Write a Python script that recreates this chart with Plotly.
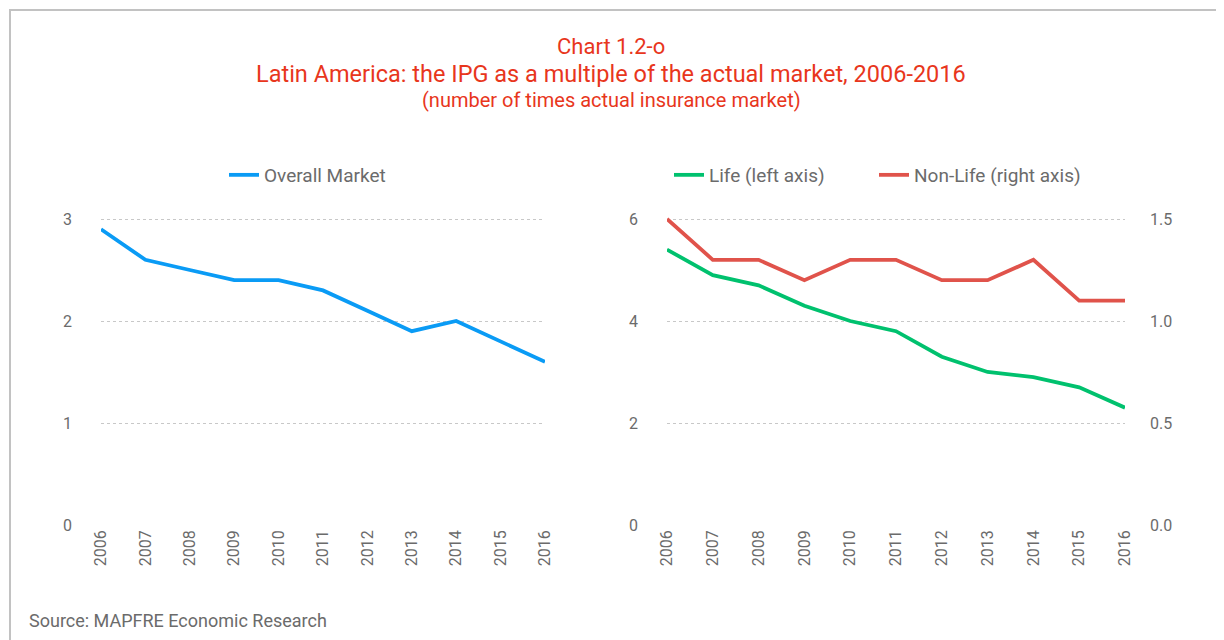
import plotly.graph_objects as go

years = [2006, 2007, 2008, 2009, 2010, 2011, 2012, 2013, 2014, 2015, 2016]
overall = [2.9, 2.6, 2.5, 2.4, 2.4, 2.3, 2.1, 1.9, 2.0, 1.8, 1.6]
life = [5.4, 4.9, 4.7, 4.3, 4.0, 3.8, 3.3, 3.0, 2.9, 2.7, 2.3]
nonlife = [1.5, 1.3, 1.3, 1.2, 1.3, 1.3, 1.2, 1.2, 1.3, 1.1, 1.1]
year_labels = [str(y) for y in years]

W, H = 1224, 640
OFF = 8  # page offset of the figure inside the browser window

def px(x):
    return (x - OFF) / W

def py(y):
    return (H - (y - OFF)) / H

TXT = "#6b6b6b"
TITLE = "#E8361C"
FONT = "Roboto"
GRID = "#c8c8c8"

fig = go.Figure()
fig.add_trace(go.Scatter(x=years, y=overall, mode="lines", name="Overall Market",
                         line=dict(color="#0A9BF5", width=3.8), xaxis="x", yaxis="y",
                         legend="legend"))
fig.add_trace(go.Scatter(x=years, y=life, mode="lines", name="Life (left axis)",
                         line=dict(color="#00C16E", width=3.8), xaxis="x2", yaxis="y2",
                         legend="legend2"))
fig.add_trace(go.Scatter(x=years, y=nonlife, mode="lines", name="Non-Life (right axis)",
                         line=dict(color="#E0534B", width=3.8), xaxis="x2", yaxis="y3",
                         legend="legend3"))

ybot, ytop = py(525), py(525 - 102 * 3.2)

xcommon = dict(range=[2006, 2016], tickmode="array", tickvals=years, ticktext=year_labels,
               tickangle=-90, showgrid=False, zeroline=False, showline=False, automargin=False,
               tickfont=dict(family=FONT, size=16, color=TXT), ticklabelstandoff=1)
ycommon = dict(showgrid=True, gridcolor=GRID, griddash="dot", gridwidth=1, zeroline=False,
               showline=False, automargin=False, tickfont=dict(family=FONT, size=16, color=TXT))
legfont = dict(family=FONT, size=19, color=TXT)

fig.update_layout(
    width=W, height=H,
    margin=dict(l=0, r=0, t=0, b=0, autoexpand=False),
    paper_bgcolor="white", plot_bgcolor="white",
    showlegend=True,
    xaxis=dict(domain=[px(101), px(545)], anchor="y", **xcommon),
    yaxis=dict(domain=[ybot, ytop], range=[0, 3.2], tickvals=[0, 1, 2, 3], anchor="x",
               ticklabelstandoff=28, **ycommon),
    xaxis2=dict(domain=[px(667), px(1125)], anchor="y2", **xcommon),
    yaxis2=dict(domain=[ybot, ytop], range=[0, 6.4], tickvals=[0, 2, 4, 6], anchor="x2",
                ticklabelstandoff=28, **ycommon),
    yaxis3=dict(range=[0, 1.6], tickvals=[0, 0.5, 1.0, 1.5], ticktext=["0.0", "0.5", "1.0", "1.5"],
                overlaying="y2", side="right", anchor="x2", showgrid=False, zeroline=False,
                showline=False, automargin=False, tickfont=dict(family=FONT, size=16, color=TXT),
                ticklabelstandoff=24),
    legend=dict(orientation="h", x=px(224), y=py(175), yanchor="middle", xanchor="left",
                font=legfont, bgcolor="rgba(0,0,0,0)"),
    legend2=dict(orientation="h", x=px(669), y=py(175), yanchor="middle", xanchor="left",
                 font=legfont, bgcolor="rgba(0,0,0,0)"),
    legend3=dict(orientation="h", x=px(874), y=py(175), yanchor="middle", xanchor="left",
                 font=legfont, bgcolor="rgba(0,0,0,0)"),
    shapes=[dict(type="rect", xref="paper", yref="paper", x0=px(10), x1=px(1219),
                 y0=-0.05, y1=py(10), line=dict(color="#C2C2C2", width=2),
                 fillcolor="rgba(0,0,0,0)", layer="below")],
    annotations=[
        dict(text="Chart 1.2-o", x=px(611), y=py(47), xref="paper", yref="paper",
             xanchor="center", yanchor="middle",
             showarrow=False, font=dict(family=FONT, size=22, color=TITLE)),
        dict(text="Latin America: the IPG as a multiple of the actual market, 2006-2016",
             x=px(611), y=py(74), xref="paper", yref="paper", xanchor="center", yanchor="middle",
             showarrow=False, font=dict(family=FONT, size=23.5, color=TITLE)),
        dict(text="(number of times actual insurance market)", x=px(611), y=py(100),
             xref="paper", yref="paper", xanchor="center", yanchor="middle", showarrow=False,
             font=dict(family=FONT, size=20, color=TITLE)),
        dict(text="Source: MAPFRE Economic Research", x=px(27), y=py(620), xref="paper",
             yref="paper", xanchor="left", yanchor="middle", showarrow=False,
             font=dict(family=FONT, size=18, color=TXT)),
    ],
)

fig.write_html("out.html")
